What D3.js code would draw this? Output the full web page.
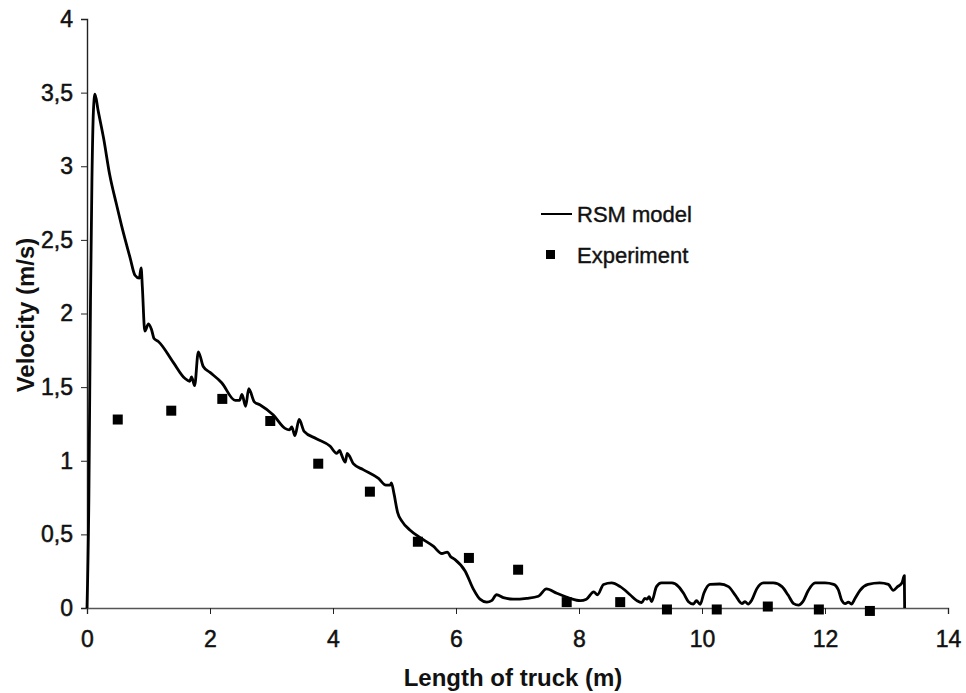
<!DOCTYPE html>
<html>
<head>
<meta charset="utf-8">
<script src="https://cdn.jsdelivr.net/npm/d3@7"></script>
<style>
  body { margin: 0; background: #fff; }
  svg { display: block; font-family: "Liberation Sans", Arial, sans-serif; }
</style>
</head>
<body>
<svg id="chart" width="966" height="693"></svg>
<script>
// RSM model curve (x in m, y in m/s)
const rsmX = [0, 0.03, 0.057, 0.08, 0.105, 0.13, 0.18, 0.27, 0.37, 0.48, 0.56, 0.70, 0.78, 0.85, 0.88, 0.90, 0.94, 1.0, 1.05, 1.09,
  1.16, 1.40, 1.59, 1.67, 1.70, 1.75, 1.81, 1.89, 2.0, 2.19, 2.41, 2.48, 2.52, 2.58, 2.63, 2.72, 2.81, 3.03, 3.22, 3.29,
  3.33, 3.38, 3.45, 3.53, 3.73, 3.95, 4.06, 4.11, 4.13, 4.20, 4.23, 4.27, 4.33, 4.49, 4.74, 4.86, 4.93, 4.95, 4.99, 5.05,
  5.12, 5.25, 5.41, 5.63, 5.77, 5.86, 5.91, 5.98, 6.15, 6.28, 6.39, 6.50, 6.58, 6.66, 6.77, 6.93, 7.15, 7.34, 7.47, 7.64,
  7.85, 8.02, 8.12, 8.24, 8.30, 8.40, 8.53, 8.67, 8.83, 8.94, 9.02, 9.07, 9.11, 9.14, 9.18, 9.26, 9.34, 9.51, 9.62, 9.70,
  9.78, 9.86, 9.91, 9.97, 10.03, 10.13, 10.29, 10.43, 10.54, 10.65, 10.70, 10.75, 10.81, 10.89, 11.0, 11.16, 11.30, 11.40, 11.49, 11.57,
  11.64, 11.73, 11.84, 12.0, 12.14, 12.22, 12.27, 12.33, 12.38, 12.43, 12.49, 12.57, 12.70, 12.89, 13.03, 13.11, 13.18, 13.25, 13.28, 13.29,
  13.295];
const rsmY = [0, 0.73, 2.09, 2.9, 3.38, 3.49, 3.38, 3.19, 2.94, 2.74, 2.60, 2.38, 2.26, 2.24, 2.31, 2.18, 1.88, 1.93, 1.89, 1.83,
  1.81, 1.67, 1.56, 1.54, 1.57, 1.51, 1.74, 1.64, 1.60, 1.53, 1.41, 1.41, 1.45, 1.37, 1.49, 1.40, 1.38, 1.31, 1.22, 1.21,
  1.23, 1.17, 1.28, 1.20, 1.15, 1.10, 1.05, 1.07, 1.05, 0.99, 1.05, 1.03, 0.98, 0.94, 0.88, 0.835, 0.835, 0.85, 0.78, 0.65,
  0.59, 0.53, 0.48, 0.42, 0.37, 0.38, 0.35, 0.33, 0.25, 0.13, 0.06, 0.04, 0.05, 0.09, 0.07, 0.06, 0.066, 0.08, 0.13, 0.10,
  0.066, 0.05, 0.06, 0.11, 0.09, 0.16, 0.17, 0.145, 0.09, 0.05, 0.036, 0.066, 0.06, 0.077, 0.043, 0.145, 0.17, 0.17, 0.145, 0.10,
  0.043, 0.027, 0.05, 0.025, 0.10, 0.16, 0.163, 0.145, 0.088, 0.03, 0.043, 0.027, 0.054, 0.13, 0.17, 0.17, 0.145, 0.088, 0.03, 0.02,
  0.043, 0.12, 0.17, 0.17, 0.16, 0.12, 0.054, 0.03, 0.04, 0.027, 0.066, 0.12, 0.16, 0.17, 0.16, 0.12, 0.145, 0.17, 0.21, 0.22,
  0];
// experiment points
const expX = [0.50, 1.37, 2.20, 2.98, 3.76, 4.60, 5.38, 6.21, 7.01, 7.80, 8.67, 9.43, 10.24, 11.07, 11.90, 12.73];
const expY = [1.28, 1.34, 1.42, 1.27, 0.98, 0.79, 0.45, 0.34, 0.26, 0.04, 0.04, -0.01, -0.01, 0.01, -0.01, -0.02];
// ticks
const xTicks = [0, 2, 4, 6, 8, 10, 12, 14];
const yTicks = [0, 0.5, 1, 1.5, 2, 2.5, 3, 3.5, 4];
const legendLabels = ['RSM model', 'Experiment'];

const svg = d3.select('#chart');
const x = d3.scaleLinear().domain([0, 14]).range([87, 948]);
const y = d3.scaleLinear().domain([0, 4]).range([608, 19]);
const fmt = d => String(d).replace('.', ',');

// y axis
const yAxis = svg.append('g').attr('transform', 'translate(' + x(0) + ',0)')
  .call(d3.axisLeft(y).tickValues(yTicks).tickFormat(fmt).tickSizeOuter(0).tickSize(6));
yAxis.select('.domain').attr('stroke', '#222').attr('stroke-width', 1.4);
yAxis.selectAll('.tick line').attr('stroke', '#222');
yAxis.selectAll('.tick text').attr('font-size', 23).attr('fill', '#111').attr('x', -14)
  .attr('stroke', '#111').attr('stroke-width', 0.5)
  .attr('font-family', '"Liberation Sans", Arial, sans-serif');

// x axis
const xAxis = svg.append('g').attr('transform', 'translate(0,' + y(0) + ')')
  .call(d3.axisBottom(x).tickValues(xTicks).tickSizeOuter(0).tickSize(6));
xAxis.select('.domain').attr('stroke', '#555').attr('stroke-width', 1.4);
xAxis.selectAll('.tick line').attr('stroke', '#222');
xAxis.selectAll('.tick text').attr('font-size', 23).attr('fill', '#111').attr('y', 23)
  .attr('stroke', '#111').attr('stroke-width', 0.5)
  .attr('font-family', '"Liberation Sans", Arial, sans-serif');

// axis titles
svg.append('text').attr('x', 513).attr('y', 686).attr('text-anchor', 'middle')
  .attr('font-size', 24).attr('font-weight', 'bold').attr('fill', '#111').text('Length of truck (m)');
svg.append('text').attr('transform', 'translate(34,315) rotate(-90)').attr('text-anchor', 'middle')
  .attr('font-size', 24).attr('font-weight', 'bold').attr('fill', '#111').text('Velocity (m/s)');

// RSM line
const line = d3.line().x(d => x(d[0])).y(d => y(d[1])).curve(d3.curveMonotoneX);
svg.append('path').datum(d3.zip(rsmX, rsmY)).attr('d', line)
  .attr('fill', 'none').attr('stroke', '#000').attr('stroke-width', 2.8).attr('stroke-linejoin', 'round');

// experiment squares
svg.selectAll('.exp').data(d3.zip(expX, expY)).enter().append('rect').attr('class', 'exp')
  .attr('x', d => x(d[0]) - 5).attr('y', d => y(d[1]) - 5).attr('width', 10).attr('height', 10).attr('fill', '#000');

// legend
const legend = svg.append('g').attr('transform', 'translate(541,214)');
legend.append('line').attr('x1', 0).attr('x2', 31).attr('y1', 0).attr('y2', 0).attr('stroke', '#000').attr('stroke-width', 2);
legend.append('rect').attr('x', 5).attr('y', 36).attr('width', 9).attr('height', 9).attr('fill', '#000');
legend.selectAll('.lt').data(legendLabels).enter().append('text').attr('class', 'lt')
  .attr('x', 36).attr('y', (d, i) => 8 + i * 41).attr('font-size', 22).attr('fill', '#111')
  .attr('stroke', '#111').attr('stroke-width', 0.4).text(d => d);
</script>
</body>
</html>
